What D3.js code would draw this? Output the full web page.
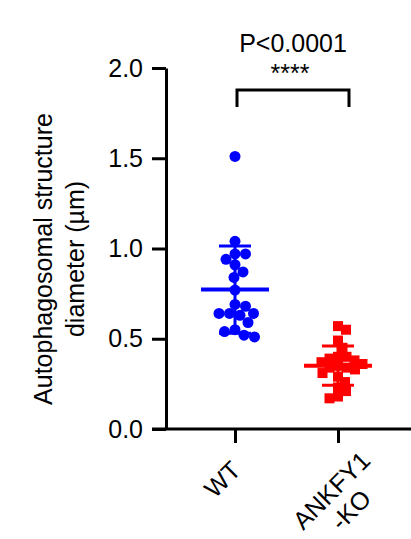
<!DOCTYPE html>
<html>
<head>
<meta charset="utf-8">
<script src="https://cdn.jsdelivr.net/npm/d3@7"></script>
<style>
body { margin: 0; background: #fff; }
text { font-family: "Liberation Sans", Arial, sans-serif; }
</style>
</head>
<body>
<svg id="chart"></svg>
<script>
const groups = ["WT", "ANKFY1-KO"]
const groupLabels = [["WT"], ["ANKFY1", "-KO"]]
const groupColors = ["#0000ff", "#ff0000"]
const wtValues = [1.51, 1.04, 0.97, 0.97, 0.94, 0.91, 0.87, 0.84, 0.77, 0.69, 0.68, 0.64, 0.64, 0.64, 0.63, 0.59, 0.55, 0.54, 0.52, 0.51]
const koValues = [0.57, 0.55, 0.49, 0.45, 0.40, 0.40, 0.39, 0.38, 0.37, 0.36, 0.35, 0.34, 0.34, 0.33, 0.31, 0.29, 0.26, 0.23, 0.21, 0.18, 0.17]
const yTicks = [0, 0.5, 1.0, 1.5, 2.0]
const yLabel = ["Autophagosomal structure", "diameter (µm)"]
const pText = "P<0.0001"
const starText = "****"

const width = 411, height = 539
const margin = {left: 166, top: 68, bottom: 110}
const fontSize = 25

const svg = d3.select("#chart").attr("width", width).attr("height", height)

const scaleY = d3.scaleLinear().domain([0, 2]).range([height - margin.bottom, margin.top])
const scaleX = d3.scalePoint().domain(groups).range([margin.left, 407]).padding(0.67)
const axisY = height - margin.bottom

// simple beeswarm: nearest free horizontal offset for each point
function swarm(values, cx, sep) {
    let placed = []
    let order = values.map((v, i) => i).sort((a, b) => values[b] - values[a])
    order.forEach(i => {
        let y = scaleY(values[i])
        for (let k = 0; k < 400; k++) {
            let off = (k % 2 ? 1 : -1) * Math.ceil(k / 2) * 0.5
            let ok = placed.every(p => (p.x - cx - off) ** 2 + (p.y - y) ** 2 >= sep * sep)
            if (ok) { placed.push({x: cx + off, y: y, v: values[i]}); break }
        }
    })
    return placed
}

// axes
let yAxis = d3.axisLeft(scaleY).tickValues(yTicks).tickFormat(d3.format(".1f")).tickSize(14).tickSizeOuter(0).tickPadding(9)
let gy = svg.append("g").attr("transform", `translate(${margin.left},0)`).call(yAxis)
gy.selectAll("path, line").attr("stroke", "#000").attr("stroke-width", 3)
gy.selectAll("text").attr("font-size", fontSize).attr("fill", "#000").attr("font-family", "Liberation Sans, Arial, sans-serif")

let xAxis = d3.axisBottom(scaleX).tickSize(14).tickSizeOuter(0).tickFormat("")
let gx = svg.append("g").attr("transform", `translate(0,${axisY})`).call(xAxis)
gx.select(".domain").attr("d", `M${margin.left - 14},0H${width}`)
gx.selectAll("path, line").attr("stroke", "#000").attr("stroke-width", 3)

// rotated category labels (multi-line blocks sit a bit lower/right)
groups.forEach((g, i) => {
    let n = groupLabels[i].length - 1
    let lab = svg.append("g")
        .attr("transform", `translate(${scaleX(g) - 19 + n * 6},${axisY + 44 + n * 11}) rotate(-45)`)
    groupLabels[i].forEach((line, j) => {
        lab.append("text").text(line)
            .attr("x", 0).attr("y", j * fontSize * 1.1)
            .attr("dy", "0.71em")
            .attr("text-anchor", "middle")
            .attr("font-size", fontSize)
    })
})

// y label
let yl = svg.append("g").attr("transform", `translate(0,259) rotate(-90)`)
yLabel.forEach((line, j) => {
    yl.append("text").text(line)
        .attr("x", 0).attr("y", 52 + j * 32)
        .attr("text-anchor", "middle")
        .attr("font-size", fontSize)
})

// points
let wtPts = swarm(wtValues, scaleX(groups[0]), 10.5)
let koPts = swarm(koValues, scaleX(groups[1]), 8.5)

svg.append("g").selectAll("circle").data(wtPts).join("circle")
    .attr("cx", d => d.x).attr("cy", d => d.y).attr("r", 5.5)
    .attr("fill", groupColors[0])

svg.append("g").selectAll("rect").data(koPts).join("rect")
    .attr("x", d => d.x - 5).attr("y", d => d.y - 5).attr("width", 10).attr("height", 10)
    .attr("fill", groupColors[1])

// mean +/- SD
const series = [wtValues, koValues]
series.forEach((vals, i) => {
    let cx = scaleX(groups[i])
    let m = d3.mean(vals), sd = d3.deviation(vals)
    let eb = svg.append("g").attr("stroke", groupColors[i])
    eb.append("line").attr("x1", cx).attr("x2", cx).attr("y1", scaleY(m + sd)).attr("y2", scaleY(m - sd)).attr("stroke-width", 3)
    eb.selectAll(".cap").data([m + sd, m - sd]).join("line").attr("class", "cap")
        .attr("x1", cx - 16).attr("x2", cx + 16)
        .attr("y1", d => scaleY(d)).attr("y2", d => scaleY(d)).attr("stroke-width", 3)
    eb.append("line").attr("x1", cx - 34).attr("x2", cx + 34).attr("y1", scaleY(m)).attr("y2", scaleY(m)).attr("stroke-width", 4)
})

// significance bracket
let bx1 = scaleX(groups[0]) + 2, bx2 = scaleX(groups[1]) + 11
svg.append("path")
    .attr("d", `M${bx1},107V90H${bx2}V107`)
    .attr("fill", "none").attr("stroke", "#000").attr("stroke-width", 3)
svg.append("text").text(pText).attr("x", (bx1 + bx2) / 2).attr("y", 52)
    .attr("text-anchor", "middle").attr("font-size", fontSize)
svg.append("text").text(starText).attr("x", (bx1 + bx2) / 2 - 3).attr("y", 82)
    .attr("text-anchor", "middle").attr("font-size", fontSize)
</script>
</body>
</html>
